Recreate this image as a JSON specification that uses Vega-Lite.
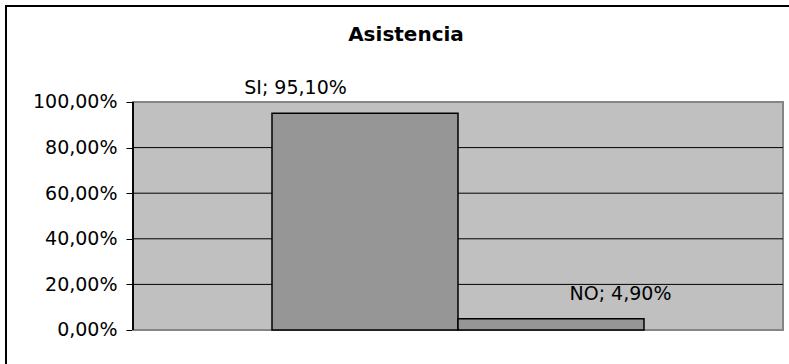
{
  "$schema": "https://vega.github.io/schema/vega-lite/v6.json",
  "width": 800,
  "height": 370,
  "autosize": {"type": "none"},
  "padding": {"left": 6, "top": 6, "right": 0, "bottom": 0},
  "background": "white",
  "view": {"stroke": "black", "strokeWidth": 2, "fill": "white"},
  "title": {
    "text": "Asistencia",
    "frame": "group",
    "anchor": "middle",
    "offset": -39,
    "font": "DejaVu Sans",
    "fontSize": 20,
    "fontWeight": "bold",
    "color": "black"
  },
  "config": {
    "locale": {"number": {"decimal": ",", "thousands": ".", "grouping": [3], "currency": ["", " €"]}}
  },
  "datasets": {
    "respuestas": [
      {"respuesta": "SI", "porcentaje": 0.951, "etiqueta": "SI; 95,10%"},
      {"respuesta": "NO", "porcentaje": 0.049, "etiqueta": "NO; 4,90%"}
    ],
    "rejilla": [
      {"nivel": 0.2},
      {"nivel": 0.4},
      {"nivel": 0.6},
      {"nivel": 0.8}
    ]
  },
  "resolve": {"scale": {"x": "independent"}},
  "layer": [
    {
      "description": "Plot area background spanning 0% to 100%",
      "data": {"name": "respuestas"},
      "mark": {"type": "rect", "fill": "#C0C0C0", "stroke": "#858585", "strokeWidth": 2},
      "encoding": {
        "x": {"datum": 0, "type": "quantitative", "scale": {"domain": [0, 1], "range": [127, 777]}, "axis": null},
        "x2": {"datum": 1},
        "y": {
          "datum": 0,
          "type": "quantitative",
          "scale": {"domain": [-0.20176, 1.42105], "nice": false, "zero": false},
          "axis": {
            "title": null,
            "orient": "left",
            "offset": -127,
            "values": [0, 0.2, 0.4, 0.6, 0.8, 1],
            "format": ".2%",
            "domain": false,
            "grid": false,
            "ticks": true,
            "tickSize": 7,
            "tickColor": "black",
            "tickWidth": 1,
            "labelPadding": 9,
            "labelFont": "DejaVu Sans",
            "labelFontSize": 19,
            "labelColor": "black"
          }
        },
        "y2": {"datum": 1}
      }
    },
    {
      "description": "Horizontal gridlines",
      "data": {"name": "rejilla"},
      "mark": {"type": "rule", "color": "black", "strokeWidth": 1},
      "encoding": {
        "x": {"datum": 0, "type": "quantitative", "scale": {"domain": [0, 1], "range": [127, 777]}, "axis": null},
        "x2": {"datum": 1},
        "y": {"field": "nivel", "type": "quantitative", "scale": {"domain": [-0.20176, 1.42105], "nice": false, "zero": false}}
      }
    },
    {
      "description": "Value axis line",
      "data": {"name": "respuestas"},
      "mark": {"type": "rule", "color": "black", "strokeWidth": 1.5},
      "encoding": {
        "x": {"datum": 0, "type": "quantitative", "scale": {"domain": [0, 1], "range": [127, 777]}, "axis": null},
        "y": {"datum": 0, "type": "quantitative", "scale": {"domain": [-0.20176, 1.42105], "nice": false, "zero": false}},
        "y2": {"datum": 1}
      }
    },
    {
      "data": {"name": "respuestas"},
      "mark": {"type": "bar", "fill": "#969696", "stroke": "black", "strokeWidth": 1.5},
      "encoding": {
        "x": {
          "field": "respuesta",
          "type": "nominal",
          "scale": {"domain": ["SI", "NO"], "range": [127, 777], "paddingInner": 0, "paddingOuter": 0.7473},
          "axis": null
        },
        "y": {
          "field": "porcentaje",
          "type": "quantitative",
          "scale": {"domain": [-0.20176, 1.42105], "nice": false, "zero": false}
        },
        "y2": {"datum": 0}
      }
    },
    {
      "data": {"name": "respuestas"},
      "mark": {"type": "text", "font": "DejaVu Sans", "fontSize": 19, "color": "black", "baseline": "alphabetic", "align": "center", "dy": -19},
      "encoding": {
        "x": {
          "field": "respuesta",
          "type": "nominal",
          "scale": {"domain": ["SI", "NO"], "range": [127, 777], "paddingInner": 0, "paddingOuter": 0.7473},
          "axis": null
        },
        "y": {"field": "porcentaje", "type": "quantitative", "scale": {"domain": [-0.20176, 1.42105], "nice": false, "zero": false}},
        "text": {"field": "etiqueta"}
      }
    }
  ]
}
